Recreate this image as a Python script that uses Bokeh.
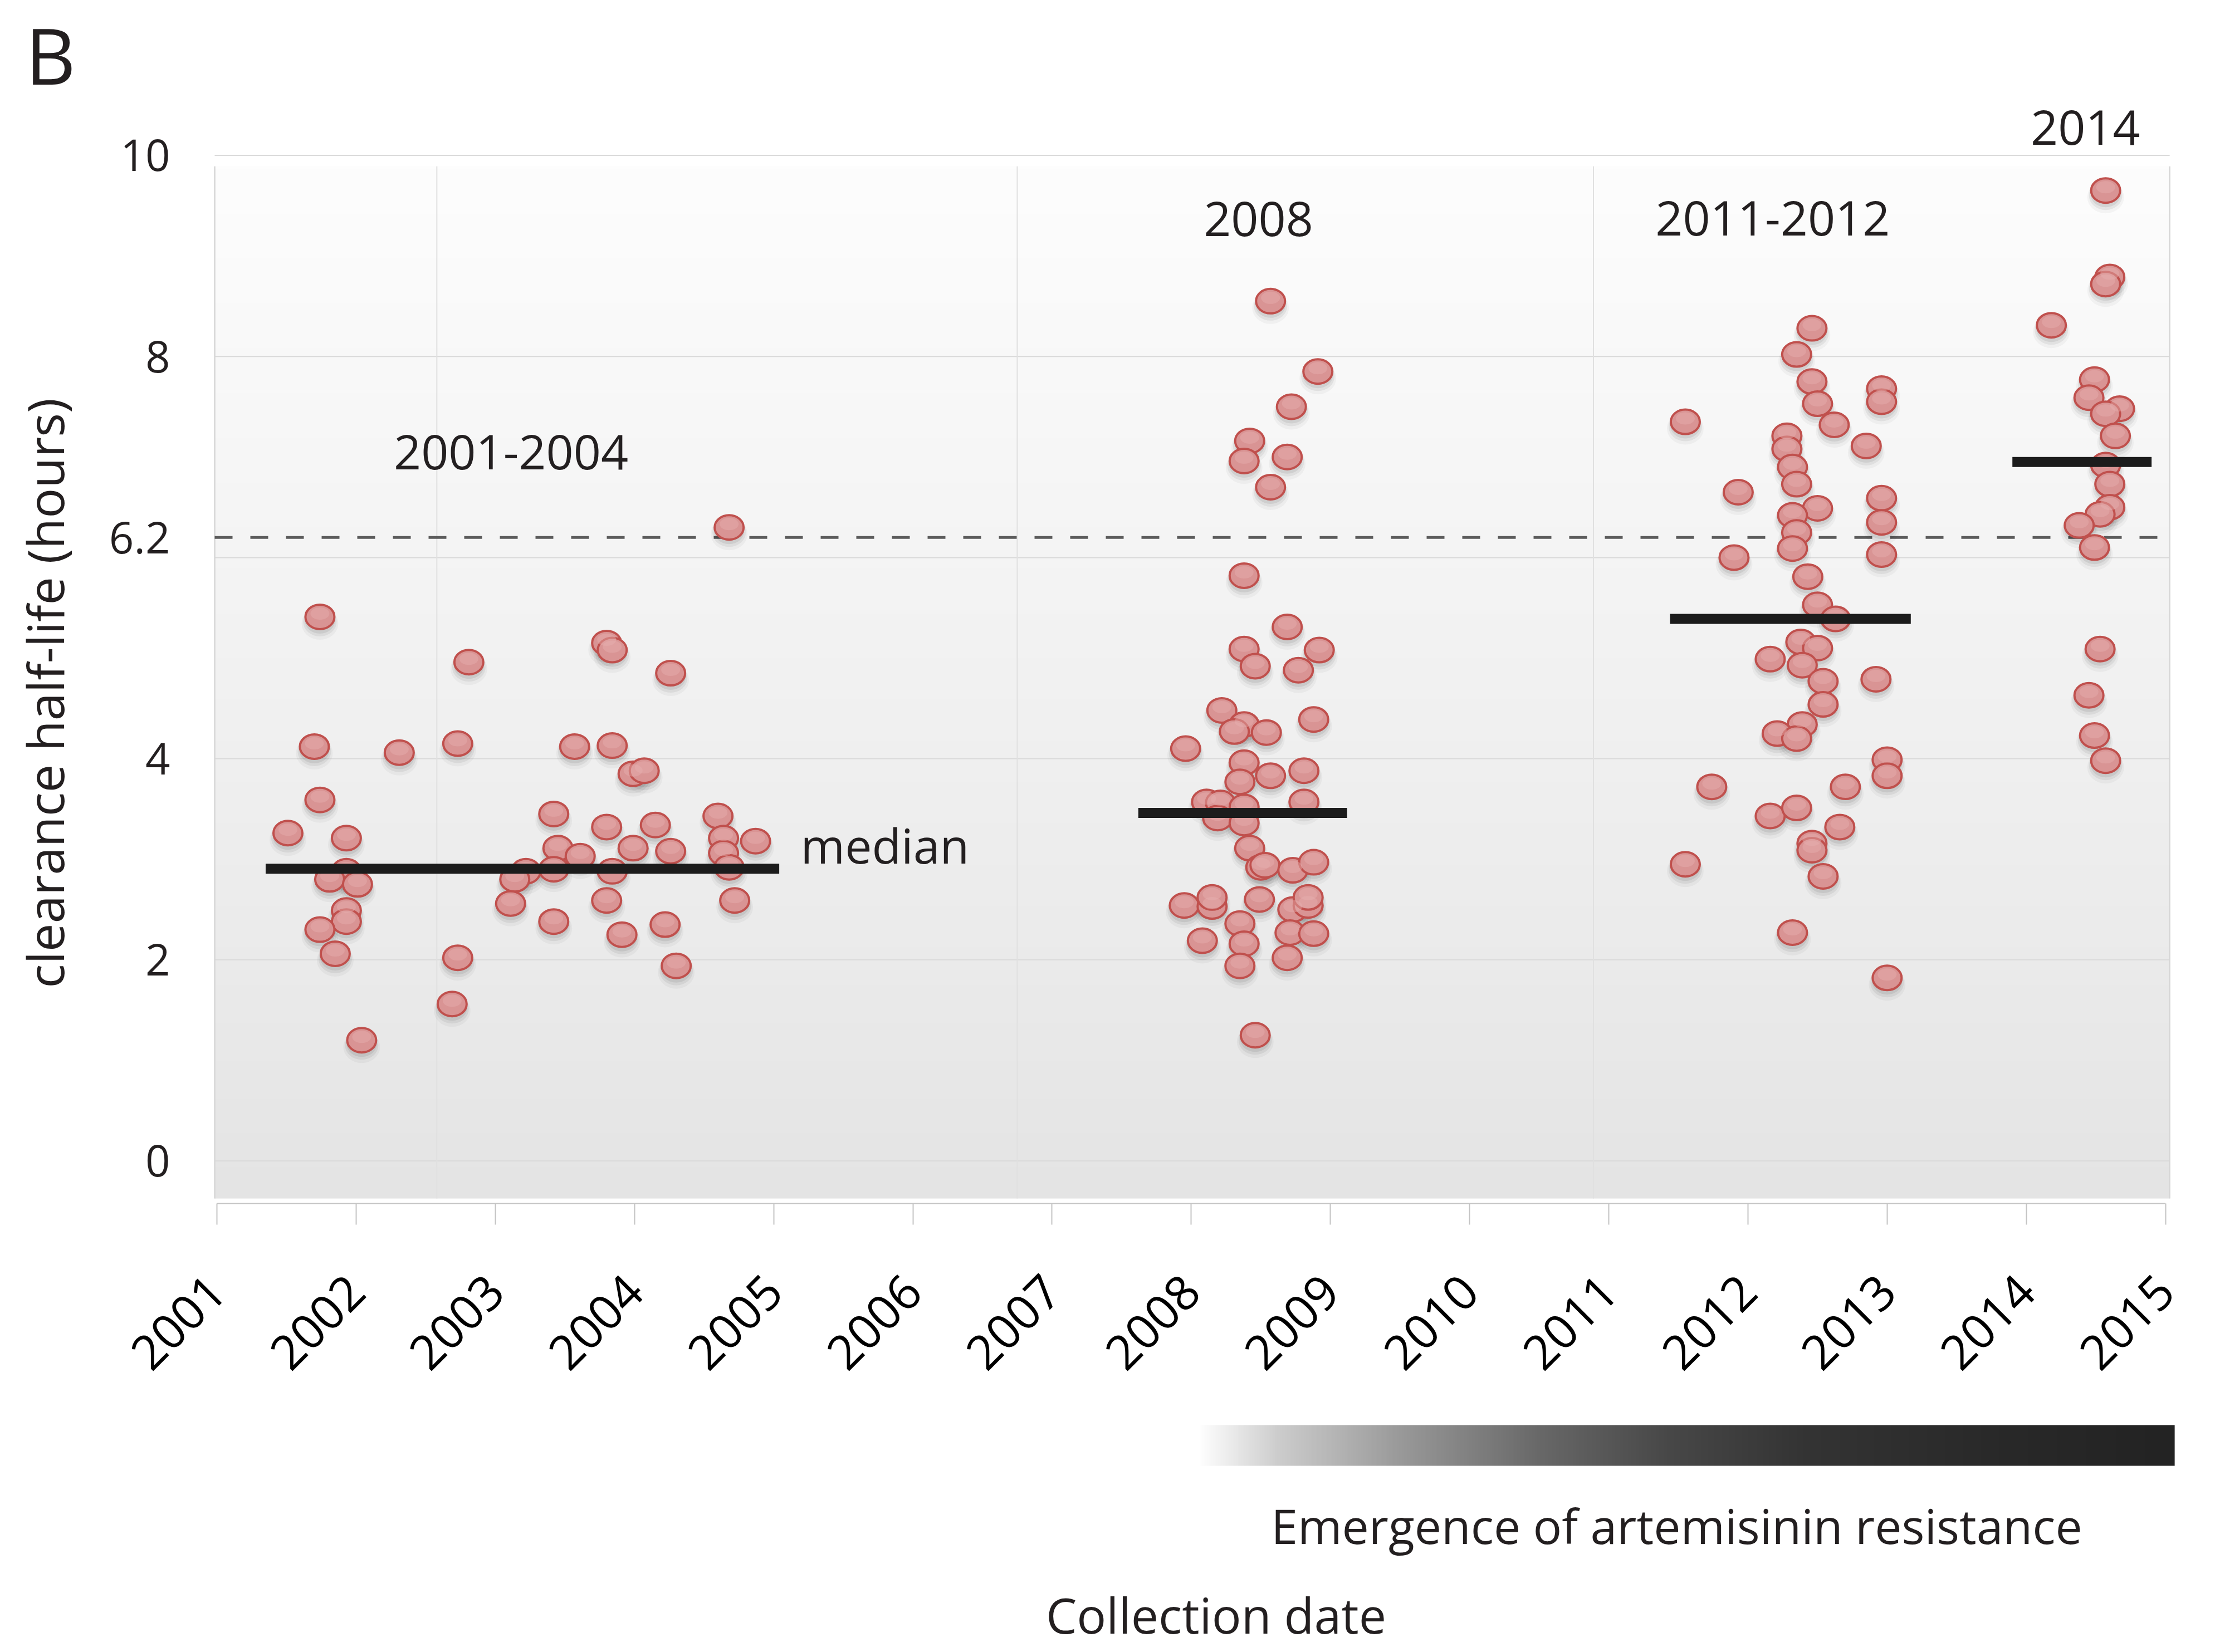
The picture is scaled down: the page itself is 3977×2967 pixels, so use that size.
import math
import numpy as np
from bokeh.plotting import figure
from bokeh.models import Range1d, LinearAxis, FixedTicker, CustomJSTickFormatter
from bokeh.core.properties import value
from bokeh.embed import file_html
from bokeh.resources import INLINE

# ---------------------------------------------------------------------------
# Parasite clearance half-life (hours) by collection date, four sampling periods
# ---------------------------------------------------------------------------
year_2001_2004 = [2004.68, 2001.74, 2003.80, 2003.84, 2002.81, 2004.26, 2001.70, 2002.31,
                  2002.73, 2003.57, 2003.84, 2003.99, 2004.07, 2001.74, 2001.51, 2001.93,
                  2003.42, 2003.80, 2004.15, 2004.60, 2004.64, 2004.87, 2003.45, 2003.61,
                  2003.99, 2004.26, 2004.64, 2004.68, 2003.22, 2003.14, 2003.42, 2003.84,
                  2001.93, 2001.81, 2002.01, 2003.11, 2003.80, 2004.72, 2001.93, 2001.93,
                  2001.74, 2003.42, 2004.22, 2003.91, 2001.85, 2002.73, 2004.30, 2002.69,
                  2002.04]
hl_2001_2004 = [6.30, 5.41, 5.15, 5.08, 4.96, 4.85, 4.12, 4.06,
                4.15, 4.12, 4.13, 3.85, 3.88, 3.59, 3.26, 3.21,
                3.45, 3.32, 3.34, 3.43, 3.21, 3.18, 3.11, 3.03,
                3.11, 3.08, 3.06, 2.92, 2.88, 2.80, 2.90, 2.88,
                2.88, 2.80, 2.75, 2.56, 2.59, 2.59, 2.49, 2.38,
                2.30, 2.38, 2.35, 2.25, 2.06, 2.02, 1.94, 1.56,
                1.20]

year_2008 = [2008.57, 2008.91, 2008.72, 2008.42, 2008.38, 2008.69, 2008.57, 2008.38,
             2008.69, 2008.38, 2008.92, 2008.46, 2008.77, 2008.22, 2008.38, 2008.31,
             2008.54, 2008.88, 2007.96, 2008.38, 2008.57, 2008.81, 2008.35, 2008.11,
             2008.21, 2008.38, 2008.81, 2008.19, 2008.38, 2008.42, 2008.50, 2008.53,
             2008.73, 2008.88, 2007.95, 2008.15, 2008.15, 2008.49, 2008.73, 2008.84,
             2008.84, 2008.35, 2008.08, 2008.38, 2008.71, 2008.88, 2008.35, 2008.69,
             2008.46]
hl_2008 = [8.55, 7.85, 7.50, 7.16, 6.96, 7.00, 6.70, 5.82,
           5.31, 5.09, 5.08, 4.92, 4.88, 4.48, 4.34, 4.27,
           4.26, 4.39, 4.10, 3.96, 3.83, 3.88, 3.77, 3.57,
           3.56, 3.52, 3.57, 3.41, 3.36, 3.11, 2.92, 2.94,
           2.89, 2.97, 2.54, 2.53, 2.62, 2.60, 2.50, 2.54,
           2.62, 2.36, 2.19, 2.16, 2.27, 2.26, 1.94, 2.02,
           1.25]

year_2011_2012 = [2012.46, 2012.35, 2012.46, 2012.50, 2012.62, 2012.96, 2012.96, 2011.55,
                  2012.28, 2012.28, 2012.85, 2012.32, 2012.35, 2011.93, 2012.50, 2012.32,
                  2012.35, 2012.32, 2012.96, 2012.96, 2012.96, 2011.90, 2012.43, 2012.50,
                  2012.63, 2012.38, 2012.50, 2012.16, 2012.39, 2012.54, 2012.92, 2012.54,
                  2012.39, 2012.21, 2012.35, 2013.00, 2013.00, 2011.74, 2012.70, 2012.16,
                  2012.35, 2012.66, 2012.46, 2012.46, 2012.54, 2011.55, 2012.32, 2013.00]
hl_2011_2012 = [8.28, 8.02, 7.75, 7.53, 7.32, 7.68, 7.55, 7.35,
                7.21, 7.08, 7.11, 6.90, 6.73, 6.65, 6.49, 6.42,
                6.25, 6.09, 6.59, 6.35, 6.03, 6.00, 5.81, 5.53,
                5.39, 5.16, 5.10, 4.99, 4.93, 4.77, 4.79, 4.54,
                4.34, 4.25, 4.20, 3.99, 3.83, 3.72, 3.72, 3.43,
                3.51, 3.32, 3.16, 3.09, 2.83, 2.95, 2.27, 1.82]

year_2014 = [2014.57, 2014.60, 2014.57, 2014.18, 2014.49, 2014.45, 2014.67, 2014.57,
             2014.64, 2014.57, 2014.60, 2014.60, 2014.53, 2014.38, 2014.49, 2014.53,
             2014.45, 2014.49, 2014.57]
hl_2014 = [9.65, 8.79, 8.72, 8.31, 7.77, 7.59, 7.48, 7.43,
           7.21, 6.92, 6.73, 6.50, 6.43, 6.32, 6.10, 5.09,
           4.63, 4.23, 3.98]

# median half-life per period (start/end of each bar in years)
period_names = ["2001-2004", "2008", "2011-2012", "2014"]
median_start = [2001.35, 2007.62, 2011.44, 2013.90]
median_end = [2005.04, 2009.12, 2013.17, 2014.90]
median_hl = [2.905, 3.46, 5.39, 6.95]

threshold_hl = 6.2
year_ticks = list(range(2001, 2016))
hl_ticks = [0, 2, 4, 6.2, 8, 10]
hl_grid = [0, 2, 4, 6, 8, 10]
year_grid = [2002.58, 2006.75, 2010.89]

# ---------------------------------------------------------------------------
# Canvas: one frame covering the whole page, axes pinned inside it
# ---------------------------------------------------------------------------
W, H = 3977, 2967
x_lo, x_hi = 1999.4434, 2015.3577
y_lo, y_hi = -4.8865, 11.542
px_per_hl = H / (y_hi - y_lo)

box_x0, box_x1 = 2000.984, 2015.03   # shaded plotting box
box_y0, box_y1 = -0.374, 9.89
axis_y = -0.4236                     # where the date axis sits

FONT_NAME = "Open Sans"
FONT = value(FONT_NAME)
INK = "#231f20"
AXIS_GRAY = "#c4c4c4"


def lift(px):
    """vertical distance in data units for a given number of pixels"""
    return px / px_per_hl


p = figure(width=W, height=H, x_range=Range1d(x_lo, x_hi), y_range=Range1d(y_lo, y_hi),
           x_axis_type=None, y_axis_type=None, toolbar_location=None,
           output_backend="svg", min_border=0, outline_line_color=None,
           background_fill_color="white", border_fill_color="white")


def gray_image(vals, vertical):
    """uint32 RGBA image from a 1-D list of gray levels."""
    vals = np.asarray(vals, dtype=float)
    if vertical:
        h, w = len(vals), 2
    else:
        h, w = 2, len(vals)
    img = np.zeros((h, w), dtype=np.uint32)
    view = img.view(dtype=np.uint8).reshape((h, w, 4))
    g = np.clip(vals, 0, 255).astype(np.uint8)
    if vertical:
        g = g[:, None]
    else:
        g = g[None, :]
    view[:, :, 0] = g
    view[:, :, 1] = g
    view[:, :, 2] = g
    view[:, :, 3] = 255
    return img


# soft vertical shading of the plotting box (row 0 = bottom)
t = np.linspace(0, 1, 300)
bg = gray_image(228 + 25 * t ** 0.9, vertical=True)
p.image_rgba(image=[bg], x=box_x0, y=box_y0, dw=box_x1 - box_x0, dh=box_y1 - box_y0)

# grid lines and box edges
p.segment(x0=[box_x0] * len(hl_grid), x1=[box_x1] * len(hl_grid), y0=hl_grid, y1=hl_grid,
          line_color="#dadada", line_width=2)
p.segment(x0=year_grid, x1=year_grid, y0=[box_y0] * 3, y1=[box_y1] * 3,
          line_color="#e0e0e0", line_width=2)
p.segment(x0=[box_x0, box_x1], x1=[box_x0, box_x1], y0=[box_y0] * 2, y1=[box_y1] * 2,
          line_color="#d6d6d6", line_width=2.5)

# 6.2 h threshold
p.segment(x0=[box_x0], x1=[box_x1], y0=[threshold_hl], y1=[threshold_hl],
          line_color="#5c5c5c", line_width=5, line_dash="32 32")

# points with a soft drop shadow
groups = [(year_2001_2004, hl_2001_2004), (year_2008, hl_2008),
          (year_2011_2012, hl_2011_2012), (year_2014, hl_2014)]
all_x = [x for g in groups for x in g[0]]
all_y = [y for g in groups for y in g[1]]
for dy_px, w_px, h_px, a in [(12, 66, 58, 0.035), (9, 60, 52, 0.06), (7, 54, 46, 0.07)]:
    p.ellipse(x=all_x, y=[v - lift(dy_px) for v in all_y],
              width=w_px, height=h_px, width_units="screen", height_units="screen",
              fill_color="black", fill_alpha=a, line_color=None)
p.ellipse(x=all_x, y=all_y, width=52, height=44, width_units="screen", height_units="screen",
          fill_color="#d99494", line_color="#c0504d", line_width=4)
p.ellipse(x=all_x, y=[v + lift(6) for v in all_y], width=34, height=22,
          width_units="screen", height_units="screen",
          fill_color="#e6b0b0", fill_alpha=0.45, line_color=None)

# medians
p.segment(x0=median_start, x1=median_end, y0=median_hl, y1=median_hl,
          line_color="#1c1c1c", line_width=18, line_cap="butt")

# axes
yaxis = LinearAxis(fixed_location=box_x0, bounds=(-0.7, 10.0),
                   ticker=FixedTicker(ticks=hl_ticks),
                   formatter=CustomJSTickFormatter(
                       code="return Number.isInteger(tick) ? tick.toFixed(0) : tick.toFixed(1)"),
                   axis_line_color=None, major_tick_line_color=None, minor_tick_line_color=None,
                   major_tick_out=0, major_tick_in=0, major_label_standoff=80,
                   major_label_text_font=FONT_NAME, major_label_text_font_size="78px",
                   major_label_text_color=INK,
                   axis_label="clearance half-life (hours)", axis_label_standoff=52,
                   axis_label_text_font=FONT_NAME, axis_label_text_font_size="90px",
                   axis_label_text_font_style="normal", axis_label_text_color=INK)
p.add_layout(yaxis, "left")

# date axis: the label is centred on the bounds, the rule is drawn separately
xaxis = LinearAxis(fixed_location=axis_y, bounds=(2001, 2015.398),
                   ticker=FixedTicker(ticks=year_ticks),
                   formatter=CustomJSTickFormatter(code="return tick.toFixed(0)"),
                   axis_line_color=None,
                   major_tick_line_color=AXIS_GRAY, major_tick_line_width=2,
                   minor_tick_line_color=None, major_tick_out=38, major_tick_in=0,
                   major_label_orientation=math.pi / 4, major_label_standoff=105,
                   major_label_text_font=FONT_NAME, major_label_text_font_size="86px",
                   major_label_text_color="black",
                   axis_label="Collection date", axis_label_standoff=350,
                   axis_label_text_font=FONT_NAME, axis_label_text_font_size="88px",
                   axis_label_text_font_style="normal", axis_label_text_color=INK)
p.add_layout(xaxis, "below")
p.segment(x0=[year_ticks[0]], x1=[year_ticks[-1]], y0=[axis_y], y1=[axis_y],
          line_color=AXIS_GRAY, line_width=2)

# period labels
p.text(x=[2003.113, 2008.483, 2012.178, 2014.425],
       y=[v + lift(30) for v in [6.88, 9.20, 9.21, 10.113]],
       text=period_names, text_font=FONT, text_font_size="86px", text_color=INK,
       text_align="center", text_baseline="alphabetic")
p.text(x=[2005.194], y=[2.977 + lift(30)], text=["median"], text_font=FONT,
       text_font_size="86px", text_color=INK, text_align="left", text_baseline="alphabetic")
p.text(x=[1999.623], y=[11.005], text=["B"], text_font=FONT, text_font_size="140px",
       text_color=INK, text_align="left", text_baseline="alphabetic")

# resistance emergence bar
stops_t = [0.0, 0.08, 0.21, 0.35, 0.48, 0.62, 0.82, 1.0]
stops_g = [255, 205, 152, 104, 72, 52, 41, 35]
bar = gray_image(np.interp(np.linspace(0, 1, 600), stops_t, stops_g), vertical=False)
bar_x0, bar_x1 = 2008.055, 2015.066
bar_y0, bar_y1 = -3.032, -2.627
p.image_rgba(image=[bar], x=bar_x0, y=bar_y0, dw=bar_x1 - bar_x0, dh=bar_y1 - bar_y0)
p.text(x=[2011.488], y=[-3.790 + lift(30)], text=["Emergence of artemisinin resistance"],
       text_font=FONT, text_font_size="86px", text_color=INK,
       text_align="center", text_baseline="alphabetic")

open("out.html", "w").write(file_html(p, INLINE))
